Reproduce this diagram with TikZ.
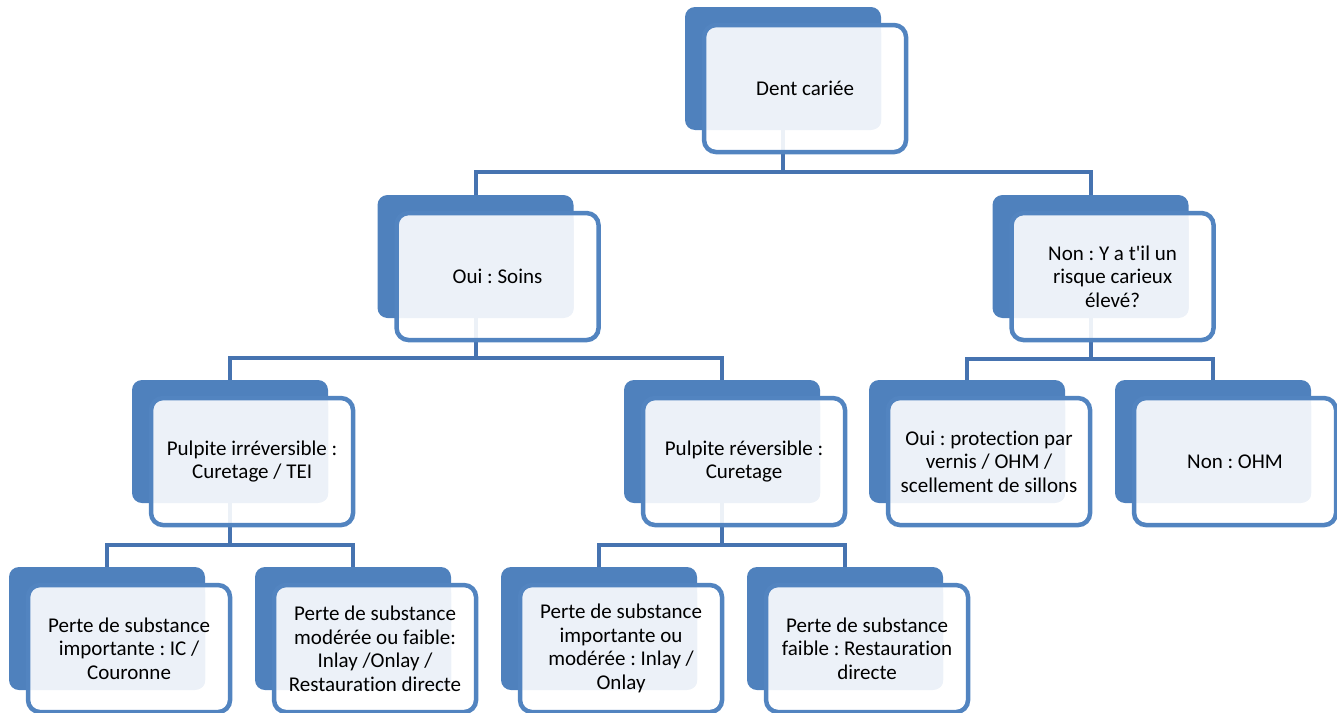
\documentclass[tikz,border=0pt]{standalone}
\usepackage{fontspec}
\setmainfont[Ligatures=NoCommon]{Carlito}
\frenchspacing
\usetikzlibrary{positioning,backgrounds}
\definecolor{backblue}{RGB}{79,129,189}
\definecolor{frameblue}{RGB}{82,132,192}
\definecolor{connblue}{RGB}{70,115,176}
\definecolor{lightfill}{RGB}{236,241,248}
\newcommand{\boxfont}{\fontsize{21}{23.5}\selectfont}
\tikzstyle{back} = [rectangle, rounded corners=10pt, fill=backblue, minimum width=196pt, minimum height=123pt]
\tikzstyle{front} = [rectangle, rounded corners=12pt, draw=frameblue, line width=4.5pt, fill=white, fill opacity=0.9, text opacity=1, minimum width=202pt, minimum height=127pt, align=center, font=\boxfont, path picture={\fill[lightfill, fill opacity=1, rounded corners=8pt] (path picture bounding box.north west) rectangle ([shift={(-25pt,23pt)}]path picture bounding box.south east);}]
\tikzstyle{conn} = [line width=4pt, draw=connblue]

\begin{document}
\begin{tikzpicture}[x=1pt, y=-1pt]
    \useasboundingbox (0,0) rectangle (1337,712);

    \node (back0) [back] at (783,68.5) {};
    \node (root0) [front, below right=16pt and 17pt of back0.north west] {Dent cariée};

    \node (back1) [back] at (475.5,256.5) {};
    \node (oui0) [front, below right=16pt and 17pt of back1.north west] {Oui : Soins};
    \node (back2) [back] at (1090.5,256.5) {};
    \node (non0) [front, below right=16pt and 17pt of back2.north west] {Non : Y a t\textquotesingle il un\\ risque carieux\\ élevé?};

    \node (back3) [back] at (230,441.5) {};
    \node (pulp0) [front, below right=16pt and 17pt of back3.north west] {Pulpite irréversible :\\ Curetage / TEI};
    \node (back4) [back] at (722,441.5) {};
    \node (pulp1) [front, below right=16pt and 17pt of back4.north west] {Pulpite réversible :\\ Curetage};
    \node (back5) [back] at (967,441.5) {};
    \node (oui1) [front, below right=16pt and 17pt of back5.north west] {Oui : protection par\\ vernis / OHM /\\ scellement de sillons};
    \node (back6) [back] at (1213,441.5) {};
    \node (non1) [front, below right=16pt and 17pt of back6.north west] {Non : OHM};

    \node (back7) [back] at (107,628.5) {};
    \node (perte0) [front, below right=16pt and 17pt of back7.north west] {Perte de substance\\ importante : IC /\\ Couronne};
    \node (back8) [back] at (353,628.5) {};
    \node (perte1) [front, below right=16pt and 17pt of back8.north west] {Perte de substance\\ modérée ou faible:\\ Inlay /Onlay /\\ Restauration directe};
    \node (back9) [back] at (599,628.5) {};
    \node (perte2) [front, below right=16pt and 17pt of back9.north west] {Perte de substance\\ importante ou\\ modérée : Inlay /\\ Onlay};
    \node (back10) [back] at (845,628.5) {};
    \node (perte3) [front, below right=16pt and 17pt of back10.north west] {Perte de substance\\ faible : Restauration\\ directe};

    \coordinate (bar0) at (783,172);
    \coordinate (bar1) at (475.5,358);
    \coordinate (bar2) at (1090.5,359);
    \coordinate (bar3) at (230,545);
    \coordinate (bar4) at (722,545);

    \begin{scope}[on background layer]
    \draw [conn] (back0.south) -- (bar0) -| (back1.north);
    \draw [conn] (bar0) -| (back2.north);
    \draw [conn] (back1.south) -- (bar1) -| (back3.north);
    \draw [conn] (bar1) -| (back4.north);
    \draw [conn] (back2.south) -- (bar2) -| (back5.north);
    \draw [conn] (bar2) -| (back6.north);
    \draw [conn] (back3.south) -- (bar3) -| (back7.north);
    \draw [conn] (bar3) -| (back8.north);
    \draw [conn] (back4.south) -- (bar4) -| (back9.north);
    \draw [conn] (bar4) -| (back10.north);
    \end{scope}
\end{tikzpicture}
\end{document}
